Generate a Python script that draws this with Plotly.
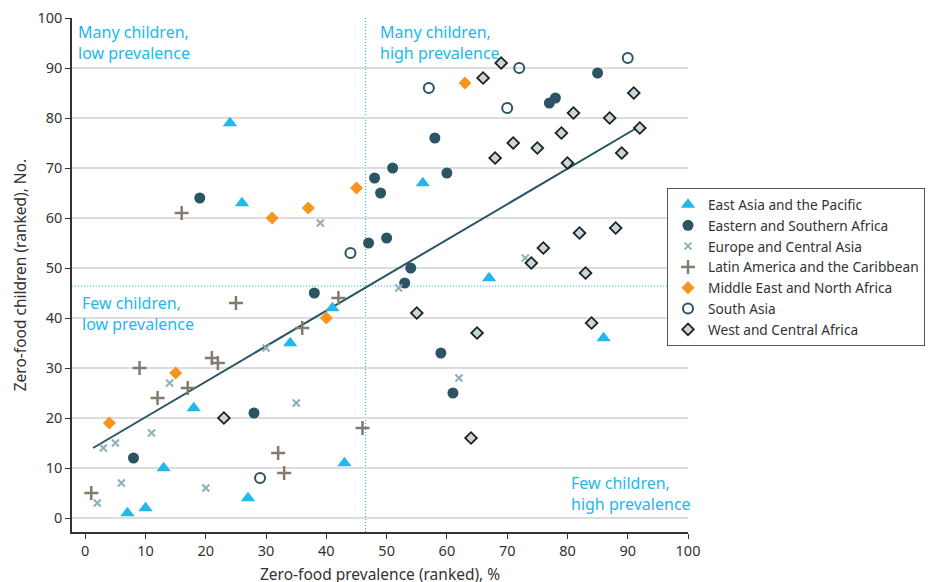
import plotly.graph_objects as go

# ---------------- data ----------------
eap_x = [24, 26, 56, 41, 34, 18, 13, 10, 7, 27, 43, 67, 86]
eap_y = [79, 63, 67, 42, 35, 22, 10, 2, 1, 4, 11, 48, 36]

esa_x = [19, 85, 77, 78, 58, 48, 49, 51, 60, 47, 50, 54, 53, 38, 59, 61, 28, 8]
esa_y = [64, 89, 83, 84, 76, 68, 65, 70, 69, 55, 56, 50, 47, 45, 33, 25, 21, 12]

eca_x = [39, 52, 73, 14, 30, 35, 11, 5, 3, 6, 2, 20, 62]
eca_y = [59, 46, 52, 27, 34, 23, 17, 15, 14, 7, 3, 6, 28]

lac_x = [16, 25, 42, 36, 21, 22, 9, 17, 12, 1, 32, 33, 46]
lac_y = [61, 43, 44, 38, 32, 31, 30, 26, 24, 5, 13, 9, 18]

mena_x = [63, 45, 37, 31, 40, 15, 4]
mena_y = [87, 66, 62, 60, 40, 29, 19]

sa_x = [57, 72, 70, 90, 44, 29]
sa_y = [86, 90, 82, 92, 53, 8]

wca_x = [66, 69, 91, 87, 92, 81, 79, 71, 75, 68, 80, 89, 88, 82, 76, 74, 83, 84, 55, 65, 64, 23]
wca_y = [88, 91, 85, 80, 78, 81, 77, 75, 74, 72, 71, 73, 58, 57, 54, 51, 49, 39, 41, 37, 16, 20]

fit_x = [1.3, 91.9]
fit_y = [14.0, 78.3]

median_x = 46.5
median_y = 46.4

region_names = [
    "East Asia and the Pacific",
    "Eastern and Southern Africa",
    "Europe and Central Asia",
    "Latin America and the Caribbean",
    "Middle East and North Africa",
    "South Asia",
    "West and Central Africa",
]

tick_vals = [0, 10, 20, 30, 40, 50, 60, 70, 80, 90, 100]
tick_text = [str(v) for v in tick_vals]

quadrant_labels = [
    "Many children,<br>low prevalence",
    "Many children,<br>high prevalence",
    "Few children,<br>low prevalence",
    "Few children,<br>high prevalence",
]

x_title = "Zero-food prevalence (ranked), %"
y_title = "Zero-food children (ranked), No."

# ---------------- styling ----------------
FONT = "Noto Sans"
LBLUE = "#22B8EC"
DARK = "#2B5564"
TXT = "#333333"

fig = go.Figure()

# regression line
fig.add_trace(go.Scatter(x=fit_x, y=fit_y, mode="lines",
                         line=dict(color=DARK, width=2), showlegend=False,
                         hoverinfo="skip"))

series = [
    (eap_x, eap_y, dict(symbol="triangle-up", size=12.5, color="#22B8EC", line=dict(width=0))),
    (esa_x, esa_y, dict(symbol="circle", size=11, color=DARK, line=dict(width=0))),
    (eca_x, eca_y, dict(symbol="x-thin", size=7, color="#8FAEBB", line=dict(width=2, color="#8FAEBB"))),
    (lac_x, lac_y, dict(symbol="cross-thin", size=10, color="#857A6B", line=dict(width=2.5, color="#857A6B"))),
    (mena_x, mena_y, dict(symbol="diamond", size=10, color="#F7941D", line=dict(width=0))),
    (sa_x, sa_y, dict(symbol="circle-open", size=10, color=DARK, line=dict(width=2, color=DARK))),
    (wca_x, wca_y, dict(symbol="diamond", size=9, color="#C8D8E0", line=dict(width=1.8, color="#222222"))),
]

for name, (xs, ys, mk) in zip(region_names, series):
    fig.add_trace(go.Scatter(x=xs, y=ys, mode="markers", name=name, marker=mk))

# dotted median lines
fig.add_shape(type="line", x0=median_x, x1=median_x, y0=-2.8, y1=100,
              line=dict(color=LBLUE, width=1.2, dash="1px,2px"), layer="below")
fig.add_shape(type="line", x0=-2.2, x1=100, y0=median_y, y1=median_y,
              line=dict(color=LBLUE, width=1.2, dash="1px,2px"), layer="below")

# quadrant labels
qpos = [(-1.5, 99.9), (48.5, 99.9), (-0.9, 45.7), (80.3, 9.7)]
for txt, (qx, qy) in zip(quadrant_labels, qpos):
    fig.add_annotation(x=qx, y=qy, text=txt, showarrow=False, xanchor="left",
                       yanchor="top", align="left",
                       font=dict(family=FONT, size=16, color=LBLUE))

# axis titles
fig.add_annotation(x=0.5, y=-0.082, xref="paper", yref="paper", text=x_title,
                   showarrow=False, xanchor="center", yanchor="middle",
                   font=dict(family=FONT, size=15.5, color=TXT))
fig.add_annotation(x=-0.084, y=0.5, xref="paper", yref="paper", text=y_title,
                   showarrow=False, xanchor="center", yanchor="middle",
                   textangle=-90,
                   font=dict(family=FONT, size=15.5, color=TXT))

fig.update_layout(
    width=925, height=574,
    margin=dict(l=64, r=245, t=10, b=50, autoexpand=False),
    paper_bgcolor="white", plot_bgcolor="white",
    font=dict(family=FONT, size=14.5, color=TXT),
    legend=dict(x=0.9659, y=0.669, xanchor="left", yanchor="top",
                bordercolor="#555555", borderwidth=1,
                font=dict(family=FONT, size=13.7, color=TXT),
                tracegroupgap=0, itemsizing="trace"),
    showlegend=True,
)

fig.update_xaxes(range=[-2.2, 100], tickvals=tick_vals, ticktext=tick_text,
                 showgrid=False, zeroline=False, showline=True,
                 linecolor=TXT, linewidth=1.5, ticks="outside",
                 ticklen=5, tickcolor=TXT, automargin=False,
                 ticklabeloverflow="allow")
fig.update_yaxes(range=[-2.8, 100], tickvals=tick_vals, ticktext=tick_text,
                 showgrid=True, gridcolor="#DDDDDD", gridwidth=1.5,
                 zeroline=False, showline=True,
                 linecolor=TXT, linewidth=1.5, ticks="outside",
                 ticklen=5, tickcolor=TXT, automargin=False,
                 ticklabeloverflow="allow")

fig.write_html("out.html")
